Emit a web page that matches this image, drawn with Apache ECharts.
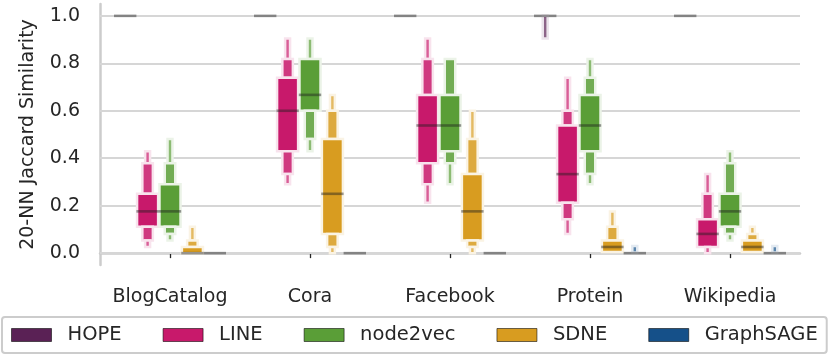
<!DOCTYPE html>
<html>
<head>
<meta charset="utf-8">
<script src="https://cdn.jsdelivr.net/npm/echarts@6/dist/echarts.min.js"></script>
<style>
  html, body { margin: 0; padding: 0; background: #fff; }
  #chart { width: 830px; height: 356px; }
</style>
</head>
<body>
<div id="chart"></div>
<script>
const categories = ['BlogCatalog', 'Cora', 'Facebook', 'Protein', 'Wikipedia']
const methods = ['HOPE', 'LINE', 'node2vec', 'SDNE', 'GraphSAGE']
const colors = ['#5a2155', '#c8196b', '#5a9e37', '#d89c20', '#155089']
const yTicks = [0.0, 0.2, 0.4, 0.6, 0.8, 1.0]

// medians per category
const hopeMedian = [1.0, 1.0, 1.0, 1.0, 1.0]
const lineMedian = [0.176, 0.6, 0.538, 0.333, 0.081]
const n2vMedian = [0.176, 0.667, 0.538, 0.538, 0.176]
const sdneMedian = [0.0, 0.25, 0.176, 0.026, 0.026]
const sageMedian = [0.0, 0.0, 0.0, 0.0, 0.0]

// letter value boxes per category: [low, high, level] (level 0 = inner box)
const hopeBoxes = [
  [],
  [],
  [],
  [[0.905, 1.0, 2]],
  []
]
const lineBoxes = [
  [[0.379, 0.429, 2], [0.25, 0.379, 1], [0.111, 0.25, 0], [0.053, 0.111, 1], [0.026, 0.053, 2]],
  [[0.818, 0.905, 2], [0.739, 0.818, 1], [0.429, 0.739, 0], [0.333, 0.429, 1], [0.29, 0.333, 2]],
  [[0.818, 0.905, 2], [0.667, 0.818, 1], [0.379, 0.667, 0], [0.29, 0.379, 1], [0.212, 0.29, 2]],
  [[0.6, 0.739, 2], [0.538, 0.6, 1], [0.212, 0.538, 0], [0.143, 0.212, 1], [0.081, 0.143, 2]],
  [[0.25, 0.333, 2], [0.143, 0.25, 1], [0.026, 0.143, 0], [0.0, 0.026, 2]]
]
const n2vBoxes = [
  [[0.379, 0.481, 2], [0.29, 0.379, 1], [0.111, 0.29, 0], [0.081, 0.111, 1], [0.053, 0.081, 2]],
  [[0.818, 0.905, 2], [0.6, 0.818, 0], [0.481, 0.6, 1], [0.429, 0.481, 2]],
  [[0.667, 0.818, 1], [0.429, 0.667, 0], [0.379, 0.429, 1], [0.29, 0.379, 2]],
  [[0.739, 0.818, 2], [0.667, 0.739, 1], [0.429, 0.667, 0], [0.333, 0.429, 1], [0.29, 0.333, 2]],
  [[0.379, 0.429, 2], [0.25, 0.379, 1], [0.111, 0.25, 0], [0.081, 0.111, 1], [0.053, 0.081, 2]]
]
const sdneBoxes = [
  [[0.053, 0.111, 2], [0.026, 0.053, 1], [0.0, 0.026, 0]],
  [[0.6, 0.667, 2], [0.481, 0.6, 1], [0.081, 0.481, 0], [0.026, 0.081, 1], [0.0, 0.026, 2]],
  [[0.481, 0.6, 2], [0.333, 0.481, 1], [0.053, 0.333, 0], [0.026, 0.053, 1], [0.0, 0.026, 2]],
  [[0.111, 0.176, 2], [0.053, 0.111, 1], [0.005, 0.053, 0]],
  [[0.081, 0.111, 2], [0.053, 0.081, 1], [0.005, 0.053, 0]]
]
const sageBoxes = [
  [],
  [],
  [],
  [[0.003, 0.03, 2]],
  [[0.003, 0.03, 2]]
]

const allBoxes = [hopeBoxes, lineBoxes, n2vBoxes, sdneBoxes, sageBoxes]
const allMedians = [hopeMedian, lineMedian, n2vMedian, sdneMedian, sageMedian]
const boxWidths = [0.94, 0.47, 0.22]
const levelMix = [0, 0.14, 0.3]

// 颜色和白色混合
function mix(hex, t) {
  const n = parseInt(hex.slice(1), 16)
  const r = n >> 16, g = (n >> 8) & 255, b = n & 255
  const f = v => Math.round(v + (255 - v) * t)
  return 'rgb(' + f(r) + ',' + f(g) + ',' + f(b) + ')'
}

function makeSeries(idx) {
  const color = colors[idx]
  const data = []
  allBoxes[idx].forEach((list, c) => {
    list.forEach(b => data.push([c, b[0], b[1], b[2]]))
  })
  allMedians[idx].forEach((m, c) => data.push([c, m, m, -1]))
  return {
    type: 'custom',
    name: methods[idx],
    itemStyle: { color: color },
    z: 10,
    renderItem: (params, api) => {
      const c = api.value(0)
      const lo = api.value(1)
      const hi = api.value(2)
      const lvl = api.value(3)
      const band = api.size([1, 0])[0]
      const slot = band * 0.8 / methods.length
      const cx = api.coord([c, 0])[0] + (idx - 2) * slot
      const yHi = api.coord([c, hi])[1]
      const yLo = api.coord([c, lo])[1]
      if (lvl < 0) {
        return {
          type: 'line',
          z2: 10,
          shape: { x1: cx - slot / 2, y1: yHi, x2: cx + slot / 2, y2: yHi },
          style: { stroke: 'rgba(30,30,30,0.45)', lineWidth: 2.6 }
        }
      }
      const w = slot * boxWidths[lvl]
      return {
        type: 'rect',
        shape: { x: cx - w / 2, y: yHi, width: w, height: yLo - yHi },
        style: { fill: mix(color, levelMix[lvl]), stroke: mix(color, 0.88), lineWidth: 2.5 }
      }
    },
    encode: { x: 0, y: [1, 2] },
    data: data
  }
}

const chart = echarts.init(document.getElementById('chart'))
const font = 'DejaVu Sans'

const series = methods.map((m, i) => makeSeries(i))
// 网格线
series.unshift({
  type: 'line',
  data: [],
  z: 1,
  silent: true,
  markLine: {
    silent: true,
    z: 1,
    symbol: ['none', 'none'],
    label: { show: false },
    lineStyle: { color: '#d6d6d6', width: 1.8, type: 'solid' },
    data: yTicks.map(v => ({ yAxis: v }))
  }
})

chart.setOption({
  animation: false,
  grid: { left: 100, right: 30, top: 4, bottom: 91 },
  legend: {
    data: methods.map((m, i) => ({
      name: m,
      itemStyle: { color: colors[i], borderColor: 'rgba(0,0,0,0.55)', borderWidth: 1 }
    })),
    icon: 'rect',
    left: 2,
    top: 317,
    itemWidth: 40,
    itemHeight: 13,
    itemGap: 41,
    padding: [8, 9, 8, 9],
    borderColor: '#cccccc',
    borderWidth: 2,
    borderRadius: 3,
    textStyle: { fontFamily: font, fontSize: 19.5, color: '#262626', padding: [0, 0, 0, 11] }
  },
  xAxis: {
    type: 'category',
    data: categories,
    axisLine: { lineStyle: { color: '#cccccc', width: 2.5 } },
    axisTick: { show: true, alignWithLabel: true, length: 5, lineStyle: { color: '#262626', width: 1.3 } },
    axisLabel: { fontFamily: font, fontSize: 19, color: '#262626', margin: 23, interval: 0 },
    splitLine: { show: false }
  },
  yAxis: {
    type: 'value',
    min: -0.05,
    max: 1.05,
    name: '20-NN Jaccard Similarity',
    nameLocation: 'middle',
    nameGap: 62,
    nameTextStyle: { fontFamily: font, fontSize: 19, color: '#262626' },
    axisLine: { show: true, lineStyle: { color: '#cccccc', width: 2.5 } },
    axisTick: { show: false },
    axisLabel: {
      fontFamily: font,
      fontSize: 19,
      color: '#262626',
      margin: 20,
      customValues: yTicks,
      formatter: v => v.toFixed(1)
    },
    splitLine: { show: false }
  },
  series: series
})
</script>
</body>
</html>
